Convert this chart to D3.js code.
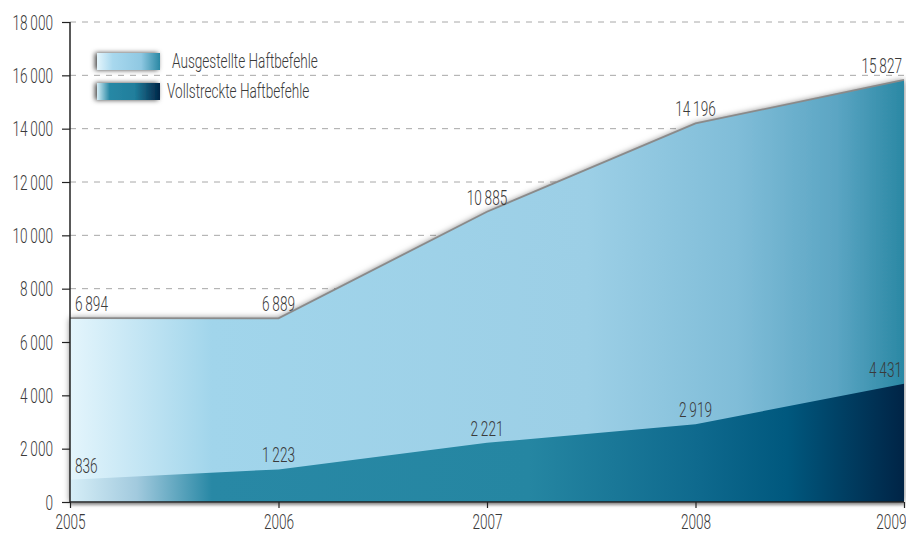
<!DOCTYPE html>
<html><head><meta charset="utf-8">
<script src="https://cdn.jsdelivr.net/npm/d3@7"></script>
<style>
html,body{margin:0;padding:0;background:#fff;}
text{font-family:Roboto,"Noto Sans",sans-serif;fill:#3a3a3a;}
</style></head>
<body>
<svg id="c" width="906" height="533"></svg>
<script>
const years = [2005, 2006, 2007, 2008, 2009];
const issued = [6894, 6889, 10885, 14196, 15827];
const executed = [836, 1223, 2221, 2919, 4431];
const yTicks = [0, 2000, 4000, 6000, 8000, 10000, 12000, 14000, 16000, 18000];
const seriesNames = ["Ausgestellte Haftbefehle", "Vollstreckte Haftbefehle"];

const SX = 0.68, FS = 20;
const fmt = v => d3.format(",")(v).replace(/,/g, "\u2009");
const svg = d3.select("#c");
const x = d3.scaleLinear().domain([2005, 2009]).range([70, 904]);
const y = d3.scaleLinear().domain([0, 18000]).range([502, 22]);

// condense text horizontally: move x/y into a transform
function squeeze(sel) {
  sel.each(function () {
    const t = d3.select(this);
    const tx = +t.attr("x") || 0, ty = +t.attr("y") || 0;
    t.attr("x", 0).attr("y", 0)
      .attr("transform", `translate(${tx},${ty}) scale(${SX},1)`)
      .attr("font-size", FS).attr("font-weight", 300)
      .attr("font-family", "Roboto,'Noto Sans',sans-serif").attr("fill", "#333");
  });
}

const defs = svg.append("defs");
function grad(id, stops, x1, x2) {
  const g = defs.append("linearGradient").attr("id", id)
    .attr("gradientUnits", "userSpaceOnUse").attr("x1", x1).attr("x2", x2).attr("y1", 0).attr("y2", 0);
  stops.forEach(s => g.append("stop").attr("offset", s[0]).attr("stop-color", s[1]));
}
const topStops = [[0, "#e4f5fc"], [0.17, "#a1d5eb"], [0.62, "#9ccfe6"], [0.8, "#80bdd8"], [0.92, "#5ba5c3"], [1, "#2a88a4"]];
const botStops = [[0, "#d6eef7"], [0.08, "#a2cade"], [0.17, "#2888a5"], [0.55, "#2586a2"], [0.75, "#0f6a8e"], [0.86, "#00587e"], [1, "#002446"]];
grad("gTop", topStops, 70, 904);
grad("gBot", botStops, 70, 904);
grad("lTop", [[0, "#e4f5fc"], [0.25, "#a8d8ee"], [0.7, "#8fc8e2"], [1, "#2a88a4"]], 97, 160);
grad("lBot", [[0, "#d6eef7"], [0.2, "#2888a5"], [0.6, "#207e9c"], [1, "#002446"]], 97, 160);

function shadow(id, sd, op, dx) {
  const f = defs.append("filter").attr("id", id).attr("x", "-30%").attr("y", "-60%").attr("width", "160%").attr("height", "220%");
  f.append("feGaussianBlur").attr("in", "SourceAlpha").attr("stdDeviation", sd).attr("result", "b");
  f.append("feOffset").attr("in", "b").attr("dx", dx).attr("dy", 0).attr("result", "o");
  f.append("feFlood").attr("flood-color", "#000").attr("flood-opacity", op);
  f.append("feComposite").attr("in2", "o").attr("operator", "in").attr("result", "s");
  const m = f.append("feMerge");
  m.append("feMergeNode").attr("in", "s");
  m.append("feMergeNode").attr("in", "SourceGraphic");
}
shadow("sh", 3, 0.55, 0);
shadow("lsh", 2.5, 0.75, -2);

// grid
svg.append("g").selectAll("line").data(yTicks.filter(d => d > 0)).join("line")
  .attr("x1", 70).attr("x2", 904).attr("y1", d => y(d)).attr("y2", d => y(d))
  .attr("stroke", "#a8a8a8").attr("stroke-width", 1).attr("stroke-dasharray", "6,6");

const data = years.map((yr, i) => ({yr, a: issued[i], b: executed[i]}));
const areaTop = d3.area().x(d => x(d.yr)).y0(y(0)).y1(d => y(d.a));
const areaBot = d3.area().x(d => x(d.yr)).y0(y(0)).y1(d => y(d.b));
svg.append("path").datum(data).attr("d", areaTop).attr("fill", "url(#gTop)").attr("filter", "url(#sh)");
svg.append("path").datum(data).attr("d", d3.line().x(d => x(d.yr)).y(d => y(d.a)))
  .attr("fill", "none").attr("stroke", "#8a8a8a").attr("stroke-width", 1.8);
svg.append("path").datum(data).attr("d", areaBot).attr("fill", "url(#gBot)");

// soft shadow under x axis
const axg = defs.append("linearGradient").attr("id", "axs").attr("x1", 0).attr("x2", 0).attr("y1", 0).attr("y2", 1);
axg.append("stop").attr("offset", 0).attr("stop-color", "#000").attr("stop-opacity", 0.3);
axg.append("stop").attr("offset", 1).attr("stop-color", "#000").attr("stop-opacity", 0);
svg.append("rect").attr("x", x(2005)).attr("y", y(0) + 1).attr("width", x(2009) - x(2005)).attr("height", 4).attr("fill", "url(#axs)");

// axes
const yAxis = svg.append("g").attr("transform", "translate(70,0)")
  .call(d3.axisLeft(y).tickValues(yTicks).tickFormat(fmt).tickSize(8).tickPadding(9));
const xAxis = svg.append("g").attr("transform", "translate(0,502)")
  .call(d3.axisBottom(x).tickValues(years).tickFormat(d3.format("d")).tickSize(6).tickPadding(6));
[yAxis, xAxis].forEach(a => {
  a.select(".domain").attr("stroke", "#222").attr("stroke-width", 1.5);
  a.selectAll(".tick line").attr("stroke", "#222").attr("stroke-width", 1.2);
});
yAxis.select(".domain").attr("d", "M0,22V502");
xAxis.select(".domain").attr("d", "M70,0H904");
xAxis.selectAll(".tick text").filter(d => d === 2009).attr("text-anchor", "end").attr("x", 2);
yAxis.selectAll(".tick text").attr("dy", null).attr("y", 7);
xAxis.selectAll(".tick text").attr("dy", null).attr("y", 27);
squeeze(yAxis.selectAll(".tick text"));
squeeze(xAxis.selectAll(".tick text"));

// value labels
function anchor(i) { return i === 0 ? "start" : (i === years.length - 1 ? "end" : "middle"); }
function dx(i) { return i === 0 ? 5 : (i === years.length - 1 ? -2 : 0); }
[issued, executed].forEach(arr => {
  const t = svg.append("g").selectAll("text").data(arr).join("text")
    .attr("x", (d, i) => x(years[i]) + dx(i)).attr("y", d => y(d) - 7)
    .attr("text-anchor", (d, i) => anchor(i)).text(fmt);
  squeeze(t);
});

// legend
const lg = svg.append("g");
[["lTop", 53, 172, 68], ["lBot", 83, 167, 98]].forEach(([g, ry, tx, ty], i) => {
  lg.append("rect").attr("x", 97).attr("y", ry).attr("width", 63).attr("height", 17)
    .attr("fill", `url(#${g})`).attr("filter", "url(#lsh)");
  const t = lg.append("text").attr("x", tx).attr("y", ty).text(seriesNames[i]);
  squeeze(t);
});
</script>
</body></html>
